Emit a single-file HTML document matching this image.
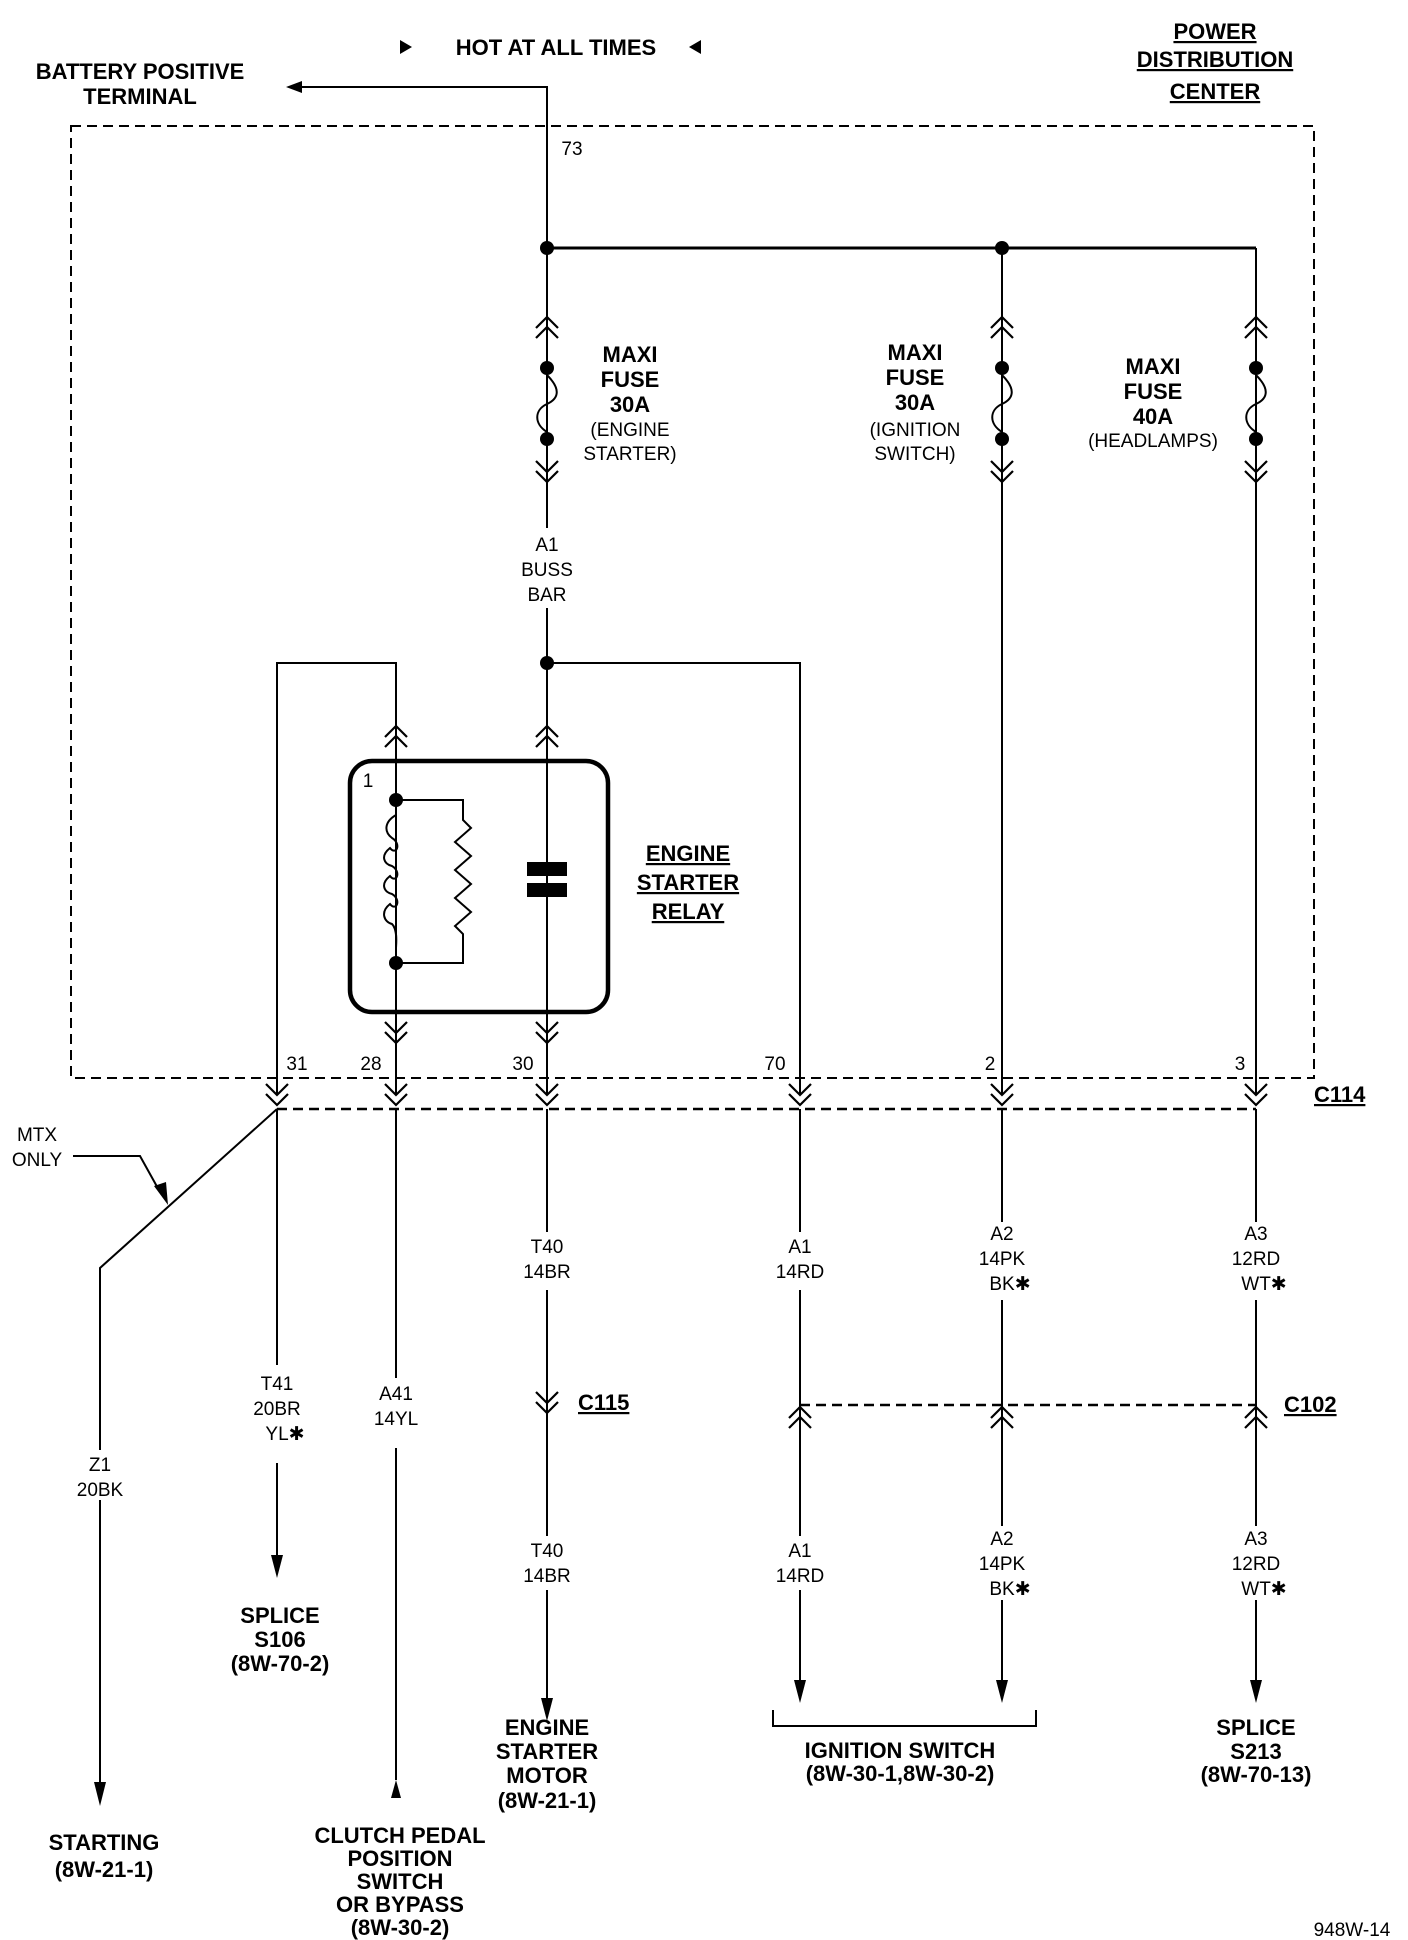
<!DOCTYPE html>
<html><head><meta charset="utf-8"><style>
html,body{margin:0;padding:0;background:#fff}
svg{display:block}
.b{font-family:"Liberation Sans Narrow","Liberation Sans",sans-serif;font-weight:bold;font-size:22px;fill:#000;text-anchor:middle}
.t{font-family:"Liberation Sans Narrow","Liberation Sans",sans-serif;font-size:19px;fill:#000;text-anchor:middle}
</style></head><body>
<svg width="1408" height="1940" viewBox="0 0 1408 1940" xmlns="http://www.w3.org/2000/svg">
<defs>
<symbol id="dn" overflow="visible"><path d="M-11,-12 L0,-1 L11,-12 M-11,-2 L0,9 L11,-2" fill="none" stroke="#000" stroke-width="2.2"/></symbol>
<symbol id="up" overflow="visible"><path d="M-11,12 L0,1 L11,12 M-11,2 L0,-9 L11,2" fill="none" stroke="#000" stroke-width="2.2"/></symbol>
</defs>
<g stroke="#000" fill="none" stroke-width="2">
<rect x="71" y="126" width="1243" height="952" stroke-dasharray="10,6"/>
<path d="M300,87 L547,87 L547,248"/>
<path d="M547,248 L1256,248" stroke-width="3"/>
<path d="M1256,248 L1256,1094"/>
<path d="M1002,248 L1002,1094"/>
<path d="M547,248 L547,528"/>
<path d="M547,608 L547,1094"/>
<path d="M277,1094 L277,663 L396,663 L396,1094"/>
<path d="M547,663 L800,663 L800,1094"/>
<path d="M277,1109 L1256,1109" stroke-dasharray="10,6" stroke-width="2.5"/>
<path d="M277,1109 L277,1365"/>
<path d="M277,1463 L277,1560"/>
<path d="M396,1109 L396,1378"/>
<path d="M396,1448 L396,1780"/>
<path d="M547,1109 L547,1232"/>
<path d="M547,1290 L547,1536"/>
<path d="M547,1590 L547,1705"/>
<path d="M800,1109 L800,1232"/>
<path d="M800,1290 L800,1536"/>
<path d="M800,1590 L800,1690"/>
<path d="M1002,1109 L1002,1222"/>
<path d="M1002,1300 L1002,1526"/>
<path d="M1002,1600 L1002,1690"/>
<path d="M1256,1109 L1256,1222"/>
<path d="M1256,1300 L1256,1526"/>
<path d="M1256,1600 L1256,1690"/>
<path d="M800,1405 L1256,1405" stroke-dasharray="10,6" stroke-width="2.5"/>
<path d="M277,1109 L100,1268 L100,1450"/>
<path d="M100,1500 L100,1790"/>
<path d="M73,1156 L140,1156 L160,1192"/>
<path d="M773,1710 L773,1726 L1036,1726 L1036,1710"/>
<rect x="350" y="761" width="258" height="251" rx="22" stroke-width="4.5"/>
<path d="M396,800 L463,800 L463,820 L471,828 L455,842 L471,856 L455,870 L471,884 L455,898 L471,912 L455,926 L463,934 L463,963 L396,963"/>
<path d="M396,815 C384,822 384,832 392,838 C402,844 396,856 390,848 C380,856 384,864 392,866 C402,872 396,884 390,876 C380,884 384,892 392,894 C402,900 396,912 390,904 C380,912 384,922 392,924 C398,930 396,945 396,948"/>
<path d="M547,375 C560,388 560,398 547,404 C534,410 534,424 547,432"/>
<path d="M1002,375 C1015,388 1015,398 1002,404 C989,410 989,424 1002,432"/>
<path d="M1256,375 C1269,388 1269,398 1256,404 C1243,410 1243,424 1256,432"/>
</g>
<g fill="#000">
<circle cx="547" cy="248" r="7"/><circle cx="1002" cy="248" r="7"/>
<circle cx="547" cy="663" r="7"/>
<circle cx="547" cy="368" r="7"/><circle cx="547" cy="439" r="7"/>
<circle cx="1002" cy="368" r="7"/><circle cx="1002" cy="439" r="7"/>
<circle cx="1256" cy="368" r="7"/><circle cx="1256" cy="439" r="7"/>
<circle cx="396" cy="800" r="7"/><circle cx="396" cy="963" r="7"/>
<rect x="527" y="862" width="40" height="14"/><rect x="527" y="883" width="40" height="14"/>
<path d="M286,87 L302,81 L302,93 Z"/>
<path d="M400,40 L412,47 L400,54 Z"/><path d="M701,40 L689,47 L701,54 Z"/>
<path d="M168,1205 L154,1186 L166,1182 Z"/>
<path d="M271,1555 L283,1555 L277,1578 Z"/>
<path d="M541,1698 L553,1698 L547,1721 Z"/>
<path d="M794,1680 L806,1680 L800,1703 Z"/>
<path d="M996,1680 L1008,1680 L1002,1703 Z"/>
<path d="M1250,1680 L1262,1680 L1256,1703 Z"/>
<path d="M94,1782 L106,1782 L100,1806 Z"/>
<path d="M391,1798 L401,1798 L396,1780 Z"/>
</g>
<use href="#up" x="547" y="326"/><use href="#up" x="1002" y="326"/><use href="#up" x="1256" y="326"/>
<use href="#dn" x="547" y="473"/><use href="#dn" x="1002" y="473"/><use href="#dn" x="1256" y="473"/>
<use href="#up" x="396" y="735"/><use href="#up" x="547" y="735"/>
<use href="#dn" x="396" y="1034"/><use href="#dn" x="547" y="1034"/>
<use href="#dn" x="277" y="1096"/><use href="#dn" x="396" y="1096"/><use href="#dn" x="547" y="1096"/><use href="#dn" x="800" y="1096"/><use href="#dn" x="1002" y="1096"/><use href="#dn" x="1256" y="1096"/>
<use href="#dn" x="547" y="1404"/>
<use href="#up" x="800" y="1416"/><use href="#up" x="1002" y="1416"/><use href="#up" x="1256" y="1416"/>

<text class="b" x="556" y="55">HOT AT ALL TIMES</text>
<text class="b" x="140" y="79">BATTERY POSITIVE</text>
<text class="b" x="140" y="104">TERMINAL</text>
<g text-decoration="underline">
<text class="b" x="1215" y="39">POWER</text>
<text class="b" x="1215" y="67">DISTRIBUTION</text>
<text class="b" x="1215" y="99">CENTER</text>
<text class="b" x="688" y="861">ENGINE</text>
<text class="b" x="688" y="890">STARTER</text>
<text class="b" x="688" y="919">RELAY</text>
<text class="b" x="1314" y="1102" style="text-anchor:start">C114</text>
<text class="b" x="578" y="1410" style="text-anchor:start">C115</text>
<text class="b" x="1284" y="1412" style="text-anchor:start">C102</text>
</g>
<text class="b" x="630" y="362">MAXI</text><text class="b" x="630" y="387">FUSE</text><text class="b" x="630" y="412">30A</text>
<text class="t" x="630" y="436">(ENGINE</text><text class="t" x="630" y="460">STARTER)</text>
<text class="b" x="915" y="360">MAXI</text><text class="b" x="915" y="385">FUSE</text><text class="b" x="915" y="410">30A</text>
<text class="t" x="915" y="436">(IGNITION</text><text class="t" x="915" y="460">SWITCH)</text>
<text class="b" x="1153" y="374">MAXI</text><text class="b" x="1153" y="399">FUSE</text><text class="b" x="1153" y="424">40A</text>
<text class="t" x="1153" y="447">(HEADLAMPS)</text>
<text class="t" x="572" y="155">73</text>
<text class="t" x="547" y="551">A1</text><text class="t" x="547" y="576">BUSS</text><text class="t" x="547" y="601">BAR</text>
<text class="t" x="368" y="787">1</text>
<text class="t" x="297" y="1070">31</text><text class="t" x="371" y="1070">28</text><text class="t" x="523" y="1070">30</text>
<text class="t" x="775" y="1070">70</text><text class="t" x="990" y="1070">2</text><text class="t" x="1240" y="1070">3</text>
<text class="t" x="37" y="1141">MTX</text><text class="t" x="37" y="1166">ONLY</text>
<text class="t" x="547" y="1253">T40</text><text class="t" x="547" y="1278">14BR</text>
<text class="t" x="800" y="1253">A1</text><text class="t" x="800" y="1278">14RD</text>
<text class="t" x="1002" y="1240">A2</text><text class="t" x="1002" y="1265">14PK</text><text class="t" x="1010" y="1290">BK✱</text>
<text class="t" x="1256" y="1240">A3</text><text class="t" x="1256" y="1265">12RD</text><text class="t" x="1264" y="1290">WT✱</text>
<text class="t" x="277" y="1390">T41</text><text class="t" x="277" y="1415">20BR</text><text class="t" x="285" y="1440">YL✱</text>
<text class="t" x="396" y="1400">A41</text><text class="t" x="396" y="1425">14YL</text>
<text class="t" x="100" y="1471">Z1</text><text class="t" x="100" y="1496">20BK</text>
<text class="t" x="547" y="1557">T40</text><text class="t" x="547" y="1582">14BR</text>
<text class="t" x="800" y="1557">A1</text><text class="t" x="800" y="1582">14RD</text>
<text class="t" x="1002" y="1545">A2</text><text class="t" x="1002" y="1570">14PK</text><text class="t" x="1010" y="1595">BK✱</text>
<text class="t" x="1256" y="1545">A3</text><text class="t" x="1256" y="1570">12RD</text><text class="t" x="1264" y="1595">WT✱</text>
<text class="b" x="280" y="1623">SPLICE</text><text class="b" x="280" y="1647">S106</text><text class="b" x="280" y="1671">(8W-70-2)</text>
<text class="b" x="547" y="1735">ENGINE</text><text class="b" x="547" y="1759">STARTER</text><text class="b" x="547" y="1783">MOTOR</text><text class="b" x="547" y="1808">(8W-21-1)</text>
<text class="b" x="900" y="1758">IGNITION SWITCH</text><text class="b" x="900" y="1781">(8W-30-1,8W-30-2)</text>
<text class="b" x="1256" y="1735">SPLICE</text><text class="b" x="1256" y="1759">S213</text><text class="b" x="1256" y="1782">(8W-70-13)</text>
<text class="b" x="104" y="1850">STARTING</text><text class="b" x="104" y="1877">(8W-21-1)</text>
<text class="b" x="400" y="1843">CLUTCH PEDAL</text><text class="b" x="400" y="1866">POSITION</text><text class="b" x="400" y="1889">SWITCH</text><text class="b" x="400" y="1912">OR BYPASS</text><text class="b" x="400" y="1935">(8W-30-2)</text>
<text class="t" x="1352" y="1936">948W-14</text>
</svg>
</body></html>
